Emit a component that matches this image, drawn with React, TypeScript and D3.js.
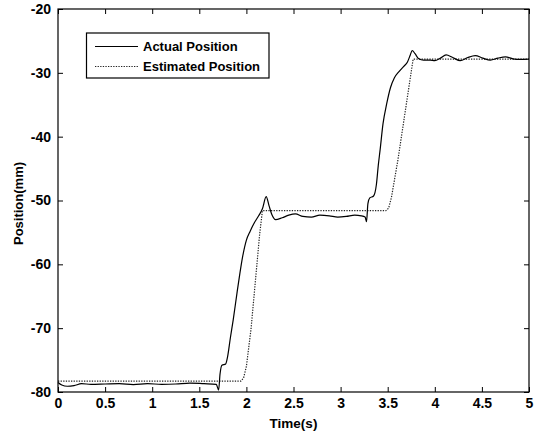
import React, { useEffect, useRef } from 'react';
import * as d3 from 'd3';

// actual position (solid line)
const actualTime = [
  0, 0.04, 0.1, 0.17, 0.25, 0.35, 0.5, 0.65, 0.8, 0.95, 1.1, 1.25, 1.4, 1.55, 1.68,
  1.705, 1.72, 1.74, 1.78, 1.8, 1.83, 1.86, 1.9, 1.93, 1.96, 2.0, 2.04, 2.08, 2.13, 2.17,
  2.21, 2.24, 2.27, 2.31, 2.38, 2.45, 2.52, 2.6, 2.69, 2.78, 2.88, 2.97, 3.06, 3.15, 3.22,
  3.26, 3.275, 3.29, 3.31, 3.35, 3.38, 3.4, 3.42, 3.45, 3.49, 3.53, 3.57, 3.62, 3.67, 3.71,
  3.74, 3.76, 3.79, 3.83, 3.88, 3.95, 4.0, 4.06, 4.12, 4.19, 4.27, 4.35, 4.43, 4.51, 4.59,
  4.67, 4.75, 4.83, 4.9, 5.0,
];
const actualPos = [
  -78.5, -78.9, -79.1, -79.0, -78.7, -78.8, -78.75, -78.7, -78.85, -78.7, -78.8, -78.75, -78.6, -78.7, -78.8,
  -79.7, -77.2, -75.8, -75.6, -74.5, -71.5, -68.7, -64.5, -61.5, -58.8, -56.2, -54.8, -53.6, -52.4, -51.3,
  -49.4, -50.8, -52.2, -53.0, -52.7, -52.3, -52.1, -52.5, -52.6, -52.3, -52.4, -52.6, -52.5, -52.3, -52.4,
  -52.6, -53.3, -50.5, -49.6, -49.3, -47.5, -44.5, -42.0, -38.0, -34.8, -32.3, -30.8, -29.8, -29.0, -28.3,
  -27.2, -26.5, -27.0, -27.8, -28.0, -28.0, -28.1, -27.7, -27.2, -27.6, -28.1, -27.6, -27.3, -27.7, -28.0,
  -27.7, -27.5, -27.8, -27.9, -27.85,
];

// estimated position (dotted line)
const estTime = [0, 1.94, 1.97, 2.0, 2.05, 2.14, 2.17, 3.48, 3.51, 3.54, 3.61, 3.77, 5.0];
const estPos = [-78.3, -78.3, -77.8, -76.0, -70.0, -55.4, -51.6, -51.6, -51.2, -49.5, -43.5, -27.85, -27.85];

const xTicks = [0, 0.5, 1, 1.5, 2, 2.5, 3, 3.5, 4, 4.5, 5];
const yTicks = [-80, -70, -60, -50, -40, -30, -20];
const seriesNames = ['Actual Position', 'Estimated Position'];

const FONT = '"Liberation Sans", Arial, sans-serif';

function PositionChart() {
  const ref = useRef<SVGSVGElement>(null);

  useEffect(() => {
    const svg = d3.select(ref.current);
    svg.selectAll('*').remove();

    const left = 58;
    const right = 529;
    const top = 9;
    const bottom = 392;

    const x = d3.scaleLinear().domain([0, 5]).range([left, right]);
    const y = d3.scaleLinear().domain([-80, -20]).range([bottom, top]);

    svg.append('rect')
      .attr('width', 544)
      .attr('height', 432)
      .attr('fill', '#fff');

    const axisStyle = (g: any) => {
      g.attr('font-family', FONT)
        .attr('font-weight', 'bold')
        .attr('font-size', 14);
      g.select('.domain').remove();
      g.selectAll('line').attr('stroke', '#000');
    };

    // MATLAB style: ticks inside on all four sides
    svg.append('g')
      .attr('transform', `translate(0,${bottom})`)
      .call(d3.axisBottom(x).tickValues(xTicks).tickSizeInner(-5).tickSizeOuter(0)
        .tickPadding(6).tickFormat((d: any) => String(d)))
      .call(axisStyle);
    svg.append('g')
      .attr('transform', `translate(0,${top})`)
      .call(d3.axisTop(x).tickValues(xTicks).tickSizeInner(-5).tickSizeOuter(0).tickFormat(() => ''))
      .call(axisStyle);
    svg.append('g')
      .attr('transform', `translate(${left},0)`)
      .call(d3.axisLeft(y).tickValues(yTicks).tickSizeInner(-5).tickSizeOuter(0)
        .tickPadding(7).tickFormat((d: any) => String(d)))
      .call(axisStyle);
    svg.append('g')
      .attr('transform', `translate(${right},0)`)
      .call(d3.axisRight(y).tickValues(yTicks).tickSizeInner(-5).tickSizeOuter(0).tickFormat(() => ''))
      .call(axisStyle);

    svg.selectAll('.tick text').attr('fill', '#000');

    const actualLine = d3.line<[number, number]>()
      .x((d) => x(d[0]))
      .y((d) => y(d[1]))
      .curve(d3.curveMonotoneX);
    const estLine = d3.line<[number, number]>()
      .x((d) => x(d[0]))
      .y((d) => y(d[1]));

    const actual = actualTime.map((t, i) => [t, actualPos[i]] as [number, number]);
    const est = estTime.map((t, i) => [t, estPos[i]] as [number, number]);

    svg.append('path')
      .attr('d', estLine(est))
      .attr('fill', 'none')
      .attr('stroke', '#222')
      .attr('stroke-width', 1.2)
      .attr('stroke-dasharray', '1.3,1.3');

    svg.append('path')
      .attr('d', actualLine(actual))
      .attr('fill', 'none')
      .attr('stroke', '#000')
      .attr('stroke-width', 1.2);

    // plot box
    svg.append('rect')
      .attr('x', left)
      .attr('y', top)
      .attr('width', right - left)
      .attr('height', bottom - top)
      .attr('fill', 'none')
      .attr('stroke', '#000')
      .attr('stroke-width', 1.2);

    // legend
    const legend = svg.append('g');
    legend.append('rect')
      .attr('x', 86.5)
      .attr('y', 33)
      .attr('width', 182.5)
      .attr('height', 45)
      .attr('fill', '#fff')
      .attr('stroke', '#000')
      .attr('stroke-width', 1.2);
    seriesNames.forEach((name, i) => {
      const ly = 46.5 + i * 20;
      legend.append('line')
        .attr('x1', 95)
        .attr('x2', 138)
        .attr('y1', ly)
        .attr('y2', ly)
        .attr('stroke', i === 0 ? '#000' : '#222')
        .attr('stroke-width', 1.2)
        .attr('stroke-dasharray', i === 0 ? null : '1.3,1.3');
      legend.append('text')
        .attr('x', 143)
        .attr('y', ly + 4.7)
        .attr('font-family', FONT)
        .attr('font-weight', 'bold')
        .attr('font-size', 13)
        .text(name);
    });

    // axis labels
    svg.append('text')
      .attr('x', (left + right) / 2)
      .attr('y', 428)
      .attr('text-anchor', 'middle')
      .attr('font-family', FONT)
      .attr('font-weight', 'bold')
      .attr('font-size', 13.5)
      .text('Time(s)');
    svg.append('text')
      .attr('transform', `translate(23,${(top + bottom) / 2 + 3}) rotate(-90)`)
      .attr('text-anchor', 'middle')
      .attr('font-family', FONT)
      .attr('font-weight', 'bold')
      .attr('font-size', 13)
      .text('Position(mm)');
  }, []);

  return (
    <svg
      ref={ref}
      width={544}
      height={432}
      style={{ position: 'absolute', left: 0, top: 0, display: 'block' }}
    />
  );
}

export default function App() {
  return <PositionChart />;
}
